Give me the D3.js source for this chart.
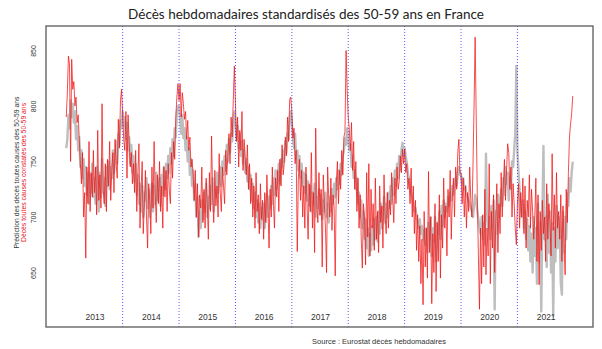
<!DOCTYPE html>
<html lang="fr">
<head>
<meta charset="utf-8">
<script src="https://cdn.jsdelivr.net/npm/d3@7/dist/d3.min.js"></script>
<style>
  html, body { margin: 0; padding: 0; background: #fff; }
  svg { display: block; }
</style>
</head>
<body>
<svg id="chart" width="602" height="349"></svg>
<script>
// Weekly deaths, age 50-59, France: observed (red) and predicted (gray), 52 weeks per year
const years = [2013, 2014, 2015, 2016, 2017, 2018, 2019, 2020, 2021];
const yTicks = [650, 700, 750, 800, 850];

const obs2013 = [790, 812, 845, 838, 750, 842, 815, 822, 800, 808, 785, 792, 770,
  748, 730, 758, 700, 722, 663, 745, 712, 768, 705, 740, 718, 760,
  722, 745, 702, 778, 715, 738, 708, 802, 725, 712, 748, 705, 752,
  728, 768, 715, 742, 758, 722, 770, 748, 735, 788, 762, 805, 815];
const obs2014 = [792, 770, 760, 795, 735, 792, 768, 745, 758, 730, 748, 722, 760,
  705, 738, 766, 690, 725, 750, 685, 712, 742, 700, 672, 730, 715,
  685, 745, 708, 768, 720, 695, 738, 712, 750, 705, 728, 690, 745,
  718, 742, 705, 748, 725, 712, 758, 735, 768, 752, 790, 808, 820];
const obs2015 = [805, 820, 790, 812, 802, 788, 795, 770, 787, 760, 772, 745, 752,
  738, 715, 742, 700, 730, 682, 720, 708, 745, 695, 725, 690, 735,
  712, 680, 740, 705, 773, 718, 695, 742, 710, 728, 700, 757, 722,
  705, 745, 728, 712, 760, 738, 755, 775, 748, 790, 772, 805, 836];
const obs2016 = [802, 768, 790, 745, 778, 760, 795, 742, 770, 752, 738, 765, 725,
  748, 712, 735, 700, 728, 690, 740, 705, 720, 685, 730, 698, 715,
  680, 722, 695, 738, 708, 672, 725, 700, 745, 712, 690, 735, 718,
  742, 705, 752, 728, 765, 738, 748, 772, 755, 790, 768, 806, 808];
const obs2017 = [795, 771, 780, 748, 760, 669, 735, 752, 715, 742, 700, 728, 690,
  745, 712, 680, 730, 705, 758, 690, 722, 668, 780, 710, 695, 740,
  702, 725, 655, 738, 712, 690, 650, 745, 718, 700, 735, 688, 720,
  708, 647, 730, 750, 712, 742, 725, 760, 738, 772, 777, 850, 815];
const obs2018 = [790, 779, 760, 785, 742, 768, 725, 750, 705, 735, 690, 720, 680,
  654, 712, 700, 657, 740, 682, 748, 665, 725, 690, 712, 670, 735,
  680, 705, 668, 728, 695, 710, 672, 738, 700, 685, 722, 690, 715,
  702, 740, 718, 695, 735, 712, 745, 725, 732, 755, 740, 761, 748];
const obs2019 = [761, 740, 748, 725, 735, 712, 744, 700, 728, 685, 715, 670, 702,
  660, 692, 640, 680, 621, 705, 655, 690, 645, 741, 668, 700, 622,
  685, 650, 712, 633, 695, 660, 720, 645, 702, 672, 735, 690, 710,
  665, 725, 700, 742, 680, 718, 735, 700, 745, 725, 758, 770, 740];
const obs2020 = [740, 712, 735, 700, 728, 690, 722, 705, 745, 715, 700, 745, 800,
  862, 790, 720, 665, 617, 690, 640, 702, 655, 725, 648, 690, 665,
  748, 640, 705, 672, 720, 650, 695, 730, 668, 712, 685, 740, 700,
  728, 752, 715, 742, 766, 758, 725, 745, 700, 730, 712, 690, 675];
const obs2021 = [712, 730, 690, 722, 700, 735, 685, 728, 672, 715, 700, 738, 690,
  725, 705, 680, 700, 735, 660, 720, 639, 705, 670, 715, 685, 700,
  660, 730, 680, 712, 695, 665, 757, 688, 720, 672, 740, 690, 705,
  680, 720, 660, 710, 675, 648, 725, 695, 740, 772, 784, 793, 809];

const pred2013 = [762, 770, 792, 780, 805, 790, 802, 785, 795, 770, 782, 760, 772,
  745, 760, 735, 752, 728, 745, 720, 740, 712, 738, 722, 748, 718,
  735, 712, 745, 725, 705, 740, 718, 752, 722, 735, 710, 745, 728,
  750, 725, 745, 735, 760, 740, 752, 768, 748, 775, 765, 787, 780];
const pred2014 = [795, 782, 790, 770, 785, 760, 772, 748, 765, 740, 755, 732, 748,
  720, 738, 712, 730, 705, 728, 700, 722, 715, 735, 708, 725, 700,
  718, 730, 705, 728, 712, 740, 715, 722, 735, 710, 738, 720, 745,
  725, 748, 735, 755, 740, 762, 748, 770, 755, 780, 772, 795, 800];
const pred2015 = [800, 788, 775, 792, 771, 780, 760, 772, 750, 762, 738, 752, 728,
  742, 715, 730, 700, 718, 682, 705, 690, 715, 698, 722, 705, 730,
  700, 718, 708, 728, 712, 735, 705, 725, 718, 740, 722, 735, 745,
  728, 750, 738, 755, 742, 765, 750, 770, 758, 775, 768, 785, 795];
const pred2016 = [785, 770, 782, 762, 775, 755, 768, 748, 760, 740, 752, 732, 745,
  725, 738, 715, 730, 708, 722, 700, 715, 695, 712, 690, 708, 698,
  712, 690, 705, 720, 700, 718, 708, 728, 712, 735, 720, 742, 725,
  738, 748, 730, 752, 745, 760, 750, 768, 758, 775, 770, 790, 795];
const pred2017 = [785, 770, 762, 775, 752, 760, 742, 755, 735, 748, 728, 740, 722,
  738, 715, 732, 710, 728, 705, 722, 712, 730, 700, 718, 708, 725,
  702, 720, 698, 715, 705, 722, 700, 712, 695, 718, 705, 725, 712,
  730, 718, 735, 725, 742, 730, 748, 738, 755, 760, 771, 765, 780];
const pred2018 = [770, 760, 765, 745, 755, 735, 742, 725, 735, 712, 722, 700, 715,
  690, 705, 680, 698, 672, 690, 665, 685, 670, 692, 675, 698, 680,
  700, 678, 705, 685, 712, 690, 702, 718, 695, 712, 700, 722, 708,
  728, 712, 735, 720, 742, 728, 748, 735, 755, 742, 760, 767, 755];
const pred2019 = [762, 755, 749, 740, 735, 728, 722, 718, 712, 705, 708, 700, 695,
  690, 698, 685, 692, 680, 688, 675, 690, 668, 695, 680, 700, 665,
  690, 678, 700, 660, 695, 685, 705, 680, 710, 692, 715, 700, 712,
  705, 718, 710, 722, 715, 728, 720, 730, 735, 728, 740, 745, 738];
const pred2020 = [738, 730, 735, 725, 728, 720, 718, 715, 712, 708, 705, 700, 710,
  720, 715, 705, 698, 690, 685, 700, 680, 695, 675, 757, 705, 690,
  700, 680, 710, 690, 715, 617, 705, 685, 720, 700, 712, 725, 710,
  735, 720, 745, 730, 740, 715, 735, 725, 750, 745, 760, 775, 836];
const pred2021 = [760, 740, 725, 710, 700, 715, 690, 705, 680, 698, 670, 692, 660,
  685, 650, 700, 665, 690, 640, 712, 660, 695, 615, 700, 764, 680,
  700, 655, 720, 668, 705, 650, 695, 611, 690, 660, 710, 672, 700,
  690, 640, 630, 705, 668, 700, 680, 722, 710, 735, 723, 740, 750];

const observed = [].concat(obs2013, obs2014, obs2015, obs2016, obs2017, obs2018, obs2019, obs2020, obs2021);
const predicted = [].concat(pred2013, pred2014, pred2015, pred2016, pred2017, pred2018, pred2019, pred2020, pred2021);

const plot = { left: 46, right: 593, top: 26, bottom: 327 };
const svg = d3.select("#chart");

// Axis ranges padded by 4% on each side
const n = observed.length;
const xPad = (n - 1) * 0.04;
const x = d3.scaleLinear().domain([-xPad, n - 1 + xPad]).range([plot.left, plot.right]);
const ext = d3.extent(observed.concat(predicted));
const yPad = (ext[1] - ext[0]) * 0.04;
const y = d3.scaleLinear().domain([ext[0] - yPad, ext[1] + yPad]).range([plot.bottom, plot.top]);

const line = d3.line().x((d, i) => x(i)).y(d => y(d));

const g = svg.append("g");
g.append("defs").append("clipPath").attr("id", "clip")
  .append("rect").attr("x", plot.left).attr("y", plot.top)
  .attr("width", plot.right - plot.left).attr("height", plot.bottom - plot.top);

const inner = g.append("g").attr("clip-path", "url(#clip)");

// Prediction (gray, thicker) under the observed series
inner.append("path").datum(predicted)
  .attr("fill", "none").attr("stroke", "#bebebe").attr("stroke-width", 2.4)
  .attr("stroke-linejoin", "round").attr("d", line);

inner.append("path").datum(observed)
  .attr("fill", "none").attr("stroke", "#f01414").attr("stroke-width", 1)
  .attr("stroke-opacity", 0.75).attr("stroke-linejoin", "round").attr("d", line);

// Year boundaries
const boundaries = d3.range(1, years.length).map(k => k * 52);
inner.selectAll("line.year").data(boundaries).join("line")
  .attr("class", "year")
  .attr("x1", d => x(d)).attr("x2", d => x(d))
  .attr("y1", plot.top).attr("y2", plot.bottom)
  .attr("stroke", "#3030ff").attr("stroke-width", 1)
  .attr("stroke-dasharray", "1,2").attr("stroke-opacity", 0.8);

// Year labels inside the plot, centred in each year
const xAxis = d3.axisBottom(x)
  .tickValues(years.map((yr, i) => i * 52 + 26))
  .tickFormat((d, i) => years[i])
  .tickSize(0).tickPadding(0);
const xg = g.append("g").attr("transform", `translate(0,${plot.bottom - 13})`).call(xAxis);
xg.select(".domain").remove();
xg.selectAll("text").attr("font-family", "Liberation Sans, Arial, sans-serif")
  .attr("font-size", 8.5).attr("fill", "#333");

// Y axis, labels parallel to the axis
const yAxis = d3.axisLeft(y).tickValues(yTicks).tickSize(0).tickPadding(0);
const yg = g.append("g").attr("transform", `translate(${plot.left},0)`).call(yAxis);
yg.select(".domain").remove();
yg.selectAll("text")
  .attr("x", null).attr("dy", null)
  .attr("text-anchor", "middle")
  .attr("transform", "translate(-10,0) rotate(-90)")
  .attr("font-family", "Liberation Sans, Arial, sans-serif")
  .attr("font-size", 7).attr("fill", "#333");

// Plot frame
g.append("rect")
  .attr("x", plot.left).attr("y", plot.top)
  .attr("width", plot.right - plot.left).attr("height", plot.bottom - plot.top)
  .attr("fill", "none").attr("stroke", "#666").attr("stroke-width", 1.4);

// Y axis titles
const cy = (plot.top + plot.bottom) / 2 - 4;
g.append("text")
  .attr("transform", `translate(19,${cy}) rotate(-90)`)
  .attr("text-anchor", "middle")
  .attr("font-family", "Liberation Sans, Arial, sans-serif")
  .attr("font-size", 6.8).attr("fill", "#333")
  .text("Prédiction des décès toutes causes des 50-59 ans");
g.append("text")
  .attr("transform", `translate(26,${cy}) rotate(-90)`)
  .attr("text-anchor", "middle")
  .attr("font-family", "Liberation Sans, Arial, sans-serif")
  .attr("font-size", 6.8).attr("fill", "#e8101a")
  .text("Décès toutes causes constatés des 50-59 ans");

// Title
g.append("text")
  .attr("x", 306).attr("y", 19)
  .attr("text-anchor", "middle")
  .attr("font-family", "Lato, 'Open Sans', sans-serif")
  .attr("font-size", 13.5).attr("fill", "#222")
  .text("Décès hebdomadaires standardisés des 50-59 ans en France");

// Source note
g.append("text")
  .attr("x", 379).attr("y", 344)
  .attr("text-anchor", "middle")
  .attr("font-family", "Liberation Sans, Arial, sans-serif")
  .attr("font-size", 7.5).attr("fill", "#333")
  .text("Source : Eurostat décès hebdomadaires");
</script>
</body>
</html>
